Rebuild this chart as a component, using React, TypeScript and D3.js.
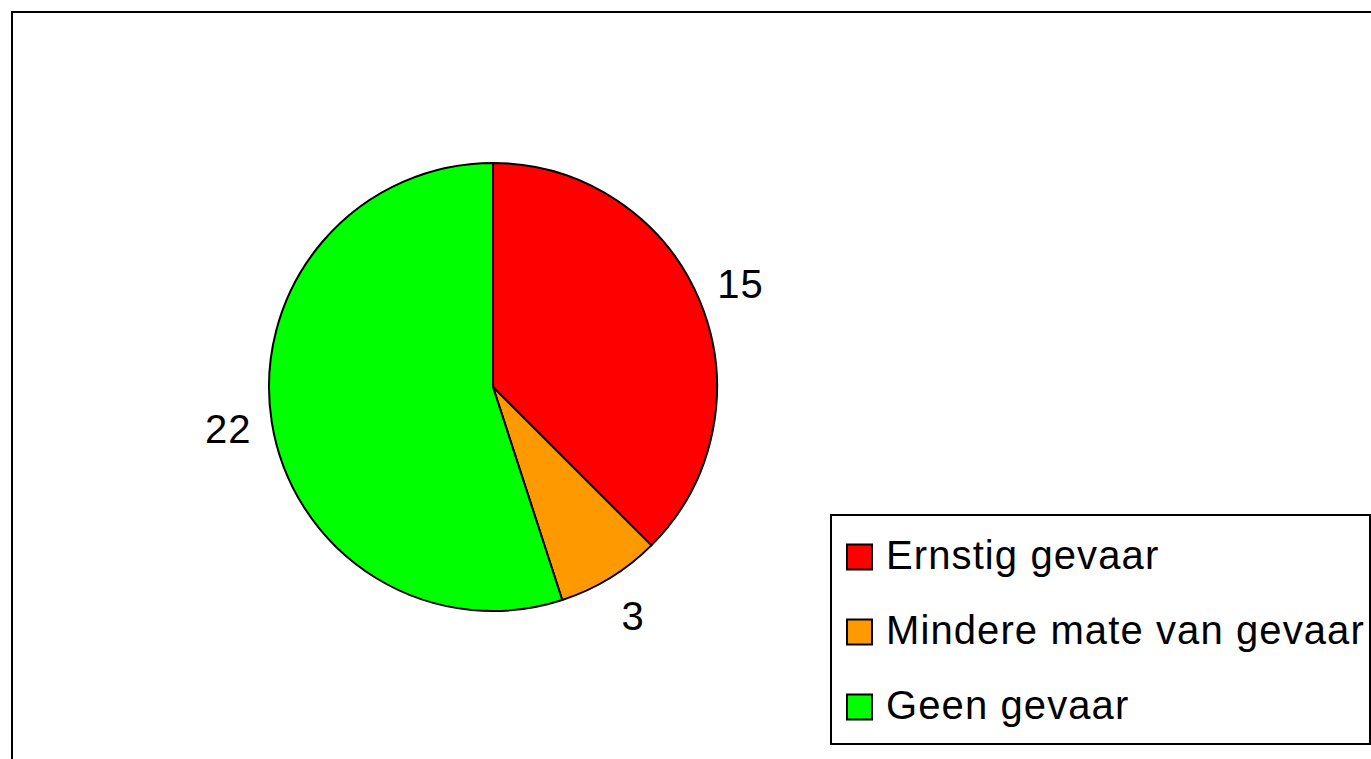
import React, { useEffect, useRef } from 'react';
import * as d3 from 'd3';

// Chart data
const categories: string[] = ['Ernstig gevaar', 'Mindere mate van gevaar', 'Geen gevaar'];
const counts: number[] = [15, 3, 22];
const sliceColours: string[] = ['#FF0000', '#FF9900', '#00FF00'];

const WIDTH = 1371;
const HEIGHT = 759;

export default function App() {
    const svgRef = useRef<SVGSVGElement | null>(null);

    useEffect(() => {
        document.body.style.margin = '0';
        if (!svgRef.current) return;

        const svg = d3.select(svgRef.current);
        svg.selectAll('*').remove();

        const font = '"Liberation Sans", Arial, sans-serif';

        // Chart area frame (runs off the right and bottom edges)
        svg.append('rect')
            .attr('x', 12)
            .attr('y', 12)
            .attr('width', WIDTH + 20)
            .attr('height', HEIGHT + 20)
            .attr('fill', '#fff')
            .attr('stroke', '#000')
            .attr('stroke-width', 2);

        // Pie
        const cx = 493;
        const cy = 387;
        const radius = 224;
        const labelRadius = 268;

        const pie = d3.pie<number>().sort(null).value(d => d);
        const arcs = pie(counts);
        const arc = d3.arc<d3.PieArcDatum<number>>().innerRadius(0).outerRadius(radius);
        const labelArc = d3.arc<d3.PieArcDatum<number>>().innerRadius(labelRadius).outerRadius(labelRadius);

        const g = svg.append('g').attr('transform', `translate(${cx},${cy})`);

        g.selectAll('path.slice')
            .data(arcs)
            .enter()
            .append('path')
            .attr('class', 'slice')
            .attr('d', d => arc(d) as string)
            .attr('fill', (d, i) => sliceColours[i])
            .attr('stroke', '#000')
            .attr('stroke-width', 2)
            .attr('stroke-linejoin', 'round');

        g.selectAll('text.label')
            .data(arcs)
            .enter()
            .append('text')
            .attr('class', 'label')
            .attr('x', d => labelArc.centroid(d)[0])
            .attr('y', d => labelArc.centroid(d)[1])
            .attr('text-anchor', 'middle')
            .attr('dominant-baseline', 'central')
            .style('font-family', font)
            .style('font-size', '40px')
            .style('letter-spacing', '1px')
            .style('fill', '#000')
            .text(d => String(d.data));

        // Legend
        const legendX = 831;
        const legendY = 515;
        svg.append('rect')
            .attr('x', legendX)
            .attr('y', legendY)
            .attr('width', 539)
            .attr('height', 229)
            .attr('fill', '#fff')
            .attr('stroke', '#000')
            .attr('stroke-width', 2);

        const rowScale = d3.scalePoint<string>()
            .domain(categories)
            .range([legendY + 42, legendY + 192]);

        const rows = svg.selectAll('g.legend-row')
            .data(categories)
            .enter()
            .append('g')
            .attr('class', 'legend-row')
            .attr('transform', d => `translate(${legendX}, ${rowScale(d)})`);

        rows.append('rect')
            .attr('x', 16)
            .attr('y', -12.5)
            .attr('width', 25)
            .attr('height', 25)
            .attr('fill', (d, i) => sliceColours[i])
            .attr('stroke', '#000')
            .attr('stroke-width', 2);

        rows.append('text')
            .attr('x', 55)
            .attr('y', 12)
            .style('font-family', font)
            .style('font-size', '40px')
            .style('letter-spacing', '1.1px')
            .style('fill', '#000')
            .text(d => d);
    }, []);

    return (
        <svg
            ref={svgRef}
            width={WIDTH}
            height={HEIGHT}
            style={{ display: 'block', background: '#fff' }}
        />
    );
}
